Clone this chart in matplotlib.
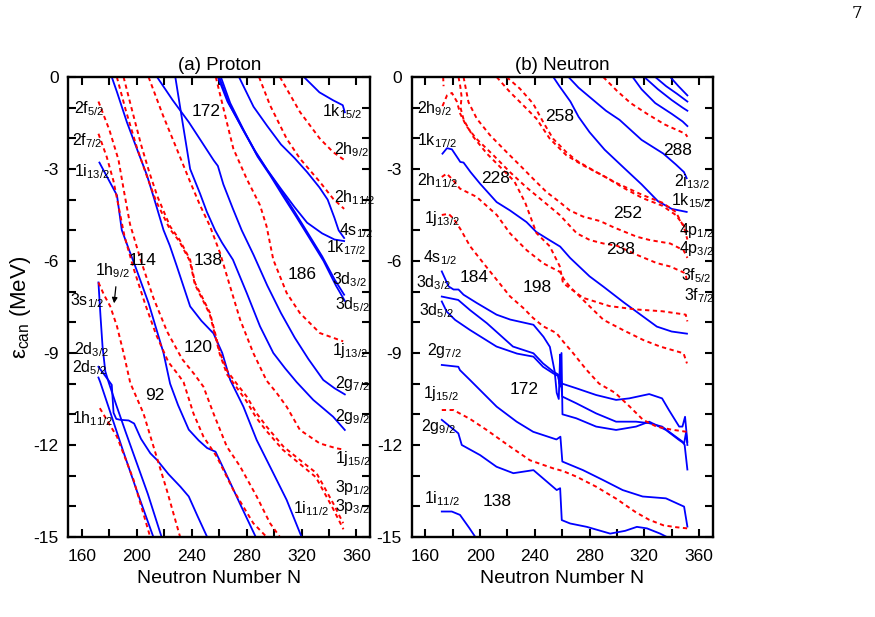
import matplotlib
matplotlib.use("Agg")
import matplotlib.pyplot as plt
from matplotlib.ticker import MultipleLocator, FuncFormatter

plt.rcParams["font.family"] = ["Liberation Sans", "DejaVu Sans"]
plt.rcParams["mathtext.fontset"] = "custom"
plt.rcParams["mathtext.rm"] = "Liberation Sans"
plt.rcParams["mathtext.it"] = "Liberation Sans:italic"
plt.rcParams["axes.unicode_minus"] = False

BLUE = "#0000ff"
RED = "#ff0000"

# ---- (a) proton levels: (N, energy in MeV) ----
a_1k15 = [(321.7, 0), (333, -0.5), (343, -0.76), (350, -0.92), (351.5, -1.15)]
a_4s1 = [(274.4, 0), (285, -0.97), (295, -1.6), (305, -2.2), (315, -2.65), (324, -3.1),
         (333, -3.6), (339, -4.0), (344, -4.6), (347, -5.0), (351, -5.25)]
a_1k17 = [(259, 0), (266, -0.8), (276, -1.6), (286, -2.4), (295, -3.03), (305, -3.65),
          (315, -4.25), (324, -4.75), (335, -5.1), (344, -5.3), (351, -5.35)]
a_3d3 = [(260, 0), (267, -0.85), (277, -1.7), (287, -2.5), (296, -3.1), (305, -3.7),
         (315, -4.4), (324, -5.05), (335, -5.85), (344, -6.6), (351, -7.1)]
a_3d5 = [(261.2, 0), (268, -0.85), (278, -1.75), (288, -2.6), (297, -3.2), (306, -3.85),
         (316, -4.55), (325, -5.2), (336, -6.0), (345, -6.8), (351.5, -7.3)]
a_2g7 = [(214.7, 0), (226, -0.75), (237.8, -1.47), (247, -2.1), (256, -2.72), (259, -2.9),
         (263, -3.5), (270, -4.3), (276.4, -5.0), (285, -5.8), (295, -6.8), (305, -7.7),
         (315, -8.5), (325, -9.2), (335.8, -9.88), (344, -10.15), (351.5, -10.35)]
a_2g9 = [(228, 0), (233, -1.4), (238.8, -3.0), (246, -3.8), (251, -4.4), (257, -5.0),
         (262, -5.4), (270, -5.96), (280, -7.04), (289.7, -8.13), (299.4, -9.0), (308, -9.5),
         (316.4, -9.95), (328.5, -10.53), (343, -11.08), (351.5, -11.51)]
a_1i11 = [(181.7, 0), (185.5, -0.49), (192.7, -1.47), (200, -2.34), (207.3, -3.2),
          (212.6, -3.97), (219.4, -4.99), (224, -5.5), (229.1, -6.17), (238.8, -7.48),
          (247, -7.95), (255.8, -8.36), (262.2, -9.0), (268, -9.88), (277.6, -10.75),
          (287.3, -11.84), (299.4, -12.92), (309.1, -13.79), (320, -15)]
a_1i13 = [(172.7, -2.79), (180, -3.4), (185.5, -3.86), (189, -4.99), (194, -5.6),
          (198.8, -6.17), (208.5, -7.37), (219.4, -9.0), (224.2, -10.0), (230, -10.7),
          (237.8, -11.5), (245, -11.85), (251.2, -12.1), (257.3, -12.22), (265.9, -13.03),
          (276, -14.0), (286.6, -15)]
a_3s1 = [(172, -6.7), (173.5, -7.8), (175, -8.8), (177, -9.6), (179.4, -9.95), (185, -10.7),
         (192, -11.6), (200, -12.6), (208, -13.6), (218, -15)]
a_2d3 = [(172, -9.45), (177, -9.75), (181.7, -10.04), (183, -10.95), (185, -11.15),
         (188, -11.18), (194, -11.2), (198, -11.3), (203, -11.8), (209.8, -12.27),
         (214.7, -12.49), (223, -12.95), (231.7, -13.36), (237.8, -13.68), (244, -14.3),
         (251.2, -15)]
a_2d5 = [(172, -9.8), (173.3, -9.95), (180, -10.85), (190, -12.2), (200, -13.5), (212, -15)]

a_2f5 = [(172, -0.8), (180, -1.73), (186.6, -2.7), (190.5, -3.7), (195, -4.8), (203, -6.0),
         (212, -7.2), (222, -8.3), (233, -9.2), (242, -9.7), (248.5, -10.1), (255.8, -10.97),
         (265.5, -12.05), (275.2, -12.7), (287.3, -13.68), (297, -14.55), (304.2, -15)]
a_2f7 = [(172, -1.85), (178, -2.6), (183, -3.4), (187, -4.3), (191, -5.2), (198, -6.3),
         (206, -7.4), (214, -8.4), (223, -9.3), (230, -9.7), (234, -9.95), (241.2, -10.97),
         (248.5, -11.73), (258.2, -12.38), (270.3, -13.47), (284.8, -14.55), (294.5, -15)]
a_1h9 = [(172, -6.7), (176, -7.1), (180.6, -7.48), (185.5, -8.13), (190.3, -9.0),
         (195.2, -9.98), (204.8, -10.97), (212.1, -12.05), (221.8, -13.47), (231.5, -15)]
a_1h11 = [(173, -10.8), (179, -11.25), (185.5, -11.73), (197.6, -13.14), (209.7, -15)]
a_3p1 = [(190.3, 0), (196, -1.0), (203, -2.2), (209, -3.1), (215, -3.9), (224.2, -4.87),
         (231, -5.3), (238.8, -5.96), (242.4, -6.72), (248.5, -7.26), (253.3, -7.7),
         (257, -8.35), (260.6, -9.0), (266, -9.6), (272.7, -10.0), (280, -10.42),
         (287.3, -10.97), (294.5, -11.4), (306.7, -12.05), (318.8, -12.49), (330.9, -12.92),
         (343, -13.9), (350.3, -14.55)]
a_3p3 = [(185.4, 0), (192, -1.1), (200, -2.3), (207, -3.2), (214, -4.05), (223.9, -4.95),
         (230.8, -5.35), (238.6, -6.0), (242.2, -6.76), (248.3, -7.3), (253.1, -7.74),
         (256.8, -8.39), (260.4, -9.04), (265.7, -9.7), (272.3, -10.1), (279.5, -10.55),
         (286.8, -11.1), (294, -11.52), (306.2, -12.15), (318.3, -12.6), (330.4, -13.05),
         (342.6, -14.05), (350.5, -14.75)]
a_1j15 = [(208.5, 0), (219, -1.25), (229, -2.34), (238.8, -3.42), (246, -4.18),
          (253.3, -4.87), (260.6, -5.74), (267.9, -6.83), (275.2, -7.91), (284.8, -9.0),
          (294.5, -9.9), (301.8, -10.3), (309.1, -10.75), (318.8, -11.51), (333.3, -11.95),
          (345.5, -12.11), (351, -12.15)]
a_1j13 = [(257.5, 0), (265.5, -1.47), (270.3, -2.34), (280, -3.32), (289.7, -4.18),
          (294.5, -4.87), (299.4, -5.96), (309.1, -7.04), (318.8, -7.7), (333.3, -8.35),
          (350.3, -8.62)]
a_2h11 = [(289, 0), (297, -0.92), (309.1, -2.01), (318.8, -2.66), (333.3, -3.42),
          (343, -3.97), (351, -4.3)]
a_2h9 = [(304.2, 0), (318.8, -1.14), (333.3, -2.01), (343, -2.45), (351.5, -2.72)]

# ---- (b) neutron levels ----
b_1k15 = [(253.5, 0), (258, -0.3), (266, -0.8), (272, -1.3), (280, -1.8), (291, -2.37),
          (306, -3.0), (318, -3.5), (330, -4.05), (340, -4.3), (351, -4.4)]
b_2i13 = [(264.6, 0), (272, -0.35), (280, -0.65), (292, -1.1), (302, -1.4), (318, -2.05),
          (334, -2.5), (343, -2.85), (349, -3.1), (351, -3.3)]
b_top1 = [(311.5, 0), (318, -0.4), (328, -0.85), (340, -1.2), (348, -1.45), (351.5, -1.6)]
b_top2 = [(320, 0), (330, -0.4), (340, -0.75), (348, -1.0), (351.5, -1.1)]
b_top3 = [(328, 0), (336, -0.3), (344, -0.55), (351.5, -0.8)]
b_top4 = [(339, 0), (345, -0.3), (351.5, -0.6)]
b_1k17 = [(172.5, -2.5), (175.8, -2.32), (179.4, -2.36), (184.2, -2.68), (185.5, -2.77),
          (187.9, -2.79), (193, -3.1), (200, -3.48), (212.1, -4.08), (221.8, -4.35),
          (233.9, -4.73), (241, -5.05), (250, -5.3), (258.5, -5.53), (265.8, -5.9),
          (280, -6.5), (290.2, -6.84), (305, -7.35), (319.4, -7.82), (329.2, -8.14),
          (340, -8.3), (351.2, -8.37)]
b_4s1 = [(172, -6.34), (177, -6.83), (180.6, -6.93), (184.2, -6.93), (187.9, -7.1),
         (197.6, -7.37), (212, -7.75), (222, -7.91), (237, -8.06), (239, -8.08),
         (246.3, -8.47), (251, -8.8), (254.5, -9.6), (256, -10.3), (257.5, -10.5),
         (258.5, -9.05), (259.2, -9.9), (260, -10.0), (270.3, -10.15), (284.8, -10.37),
         (299.4, -10.53), (309, -10.48), (323.6, -10.34), (333, -10.48), (338, -10.86),
         (345.5, -11.4), (347.9, -11.4), (349.8, -11.08), (351.5, -11.9)]
b_3d3 = [(172, -7.16), (184, -7.27), (192.6, -7.6), (205, -8.03), (224, -8.79), (239, -9.01),
         (246, -9.34), (253.6, -9.61), (257, -9.7), (258, -10.0), (259, -9.8), (260, -10.42),
         (270.3, -10.64), (284.8, -10.97), (299.4, -11.24), (314, -11.24), (323.6, -11.29),
         (333, -11.4), (343, -11.73), (347.9, -11.89), (349.5, -12.0), (351.5, -12.8)]
b_3d5 = [(172, -7.32), (175.6, -7.65), (181.7, -7.92), (192.6, -8.25), (212, -8.79),
         (227, -9.02), (239, -9.12), (246, -9.45), (253.6, -9.67), (257, -9.75),
         (258.5, -10.1), (259.5, -9.0), (260.2, -11.0), (270.3, -11.13), (284.8, -11.4),
         (299.4, -11.51), (314, -11.4), (323.6, -11.24), (335.8, -11.51), (345.5, -11.84),
         (349.1, -11.95), (350.5, -11.6), (351.5, -12.0)]
b_2g7 = [(172, -9.39), (184.1, -9.45), (185.3, -9.56), (192.6, -9.88), (200, -10.21),
         (212.1, -10.75), (226.7, -11.24), (238.8, -11.57), (255.8, -11.82), (258.7, -11.73),
         (260.1, -12.54), (275.2, -12.82), (289.7, -13.14), (304.2, -13.47), (318.8, -13.68),
         (335.8, -13.74), (349.1, -14.01), (351.5, -14.66)]
b_2g9 = [(172, -11.18), (184.1, -11.62), (186.6, -12.0), (200, -12.33), (212, -12.71),
         (224.3, -12.92), (239, -12.82), (256, -13.47), (258.5, -13.41), (259.7, -14.45),
         (265.8, -14.56), (278, -14.67), (295.1, -14.89), (306, -14.8), (314.6, -14.67),
         (322, -14.72), (331.6, -14.89), (336.5, -15.0), (340, -15.2)]
b_1i11 = [(172, -14.17), (179.3, -14.17), (185.3, -14.28), (192, -14.7), (198, -15.1)]

b_red_top = [(290, 0), (300, -0.45), (310, -0.85), (322, -1.2), (335, -1.55), (345, -1.75),
             (350, -1.85), (351.5, -1.95)]
b_1j15 = [(172, -10.86), (180.5, -10.86), (192.6, -11.15), (204.8, -11.51), (221.8, -12.05),
          (236.5, -12.5), (253.3, -12.76), (260.6, -12.85), (270.3, -13.03), (284.8, -13.36),
          (299.4, -13.75), (314, -14.2), (323.6, -14.44), (334, -14.62), (343, -14.68),
          (351.5, -14.72)]
b_1j13 = [(172, -4.5), (176.9, -4.46), (180.6, -4.62), (185.5, -4.95), (192.7, -5.52),
          (202.4, -6.07), (212.1, -6.61), (221.8, -7.15), (231.5, -7.53), (238.8, -7.86),
          (246.1, -8.13), (255.8, -8.35), (260.6, -8.62), (267.9, -9.0), (277.6, -9.54),
          (287, -10.0), (298.7, -10.3), (309.4, -10.75), (319.1, -11.18), (328.9, -11.4),
          (340, -11.5), (351, -11.57)]
b_2h11 = [(172, -3.26), (175.6, -3.15), (180.4, -3.37), (185.3, -3.64), (197.5, -3.91),
          (212.2, -4.5), (221.9, -5.1), (234.1, -5.65), (246.3, -6.08), (258.5, -6.36),
          (260.9, -6.57), (265.8, -6.85), (278, -7.39), (290.2, -7.92), (304.8, -8.26),
          (319.4, -8.58), (331.6, -8.79), (348.7, -9.01), (351.2, -9.34)]
b_2h9 = [(172.5, -0.95), (175.8, -0.6), (179.4, -0.52), (183, -0.8), (185.5, -1.2),
         (190, -1.6), (197, -2.0), (209.7, -2.55), (221.8, -3.1), (233.9, -3.6),
         (246.1, -4.05), (258.2, -4.5), (270.7, -5.1), (280.4, -5.32), (290.2, -5.43),
         (299.9, -5.5), (314.6, -5.8), (329.2, -6.07), (339, -6.18), (350, -6.4), (351.5, -6.7)]
b_3f5 = [(187.9, 0), (191.5, -0.82), (197.6, -1.36), (207.3, -1.9), (219.4, -2.45),
         (229.1, -2.88), (238.8, -3.32), (248.5, -3.75), (258.2, -4.08), (265.5, -4.35),
         (275.2, -4.55), (287.8, -4.7), (297.5, -4.9), (314.6, -5.21), (324.3, -5.32),
         (339, -5.43), (348.7, -5.65), (351.5, -5.9)]
b_3f7 = [(184.2, 0), (185.5, -0.3), (186.5, -0.65), (185.7, -1.0), (188, -1.4), (195, -1.95),
         (205, -2.5), (215, -2.95), (225, -3.4), (233, -4.1), (241.2, -5.09), (250.9, -5.52),
         (258.2, -6.17), (260.6, -6.72), (275.2, -7.2), (294.5, -7.47), (313.9, -7.58),
         (333.3, -7.64), (350.3, -7.75), (351.5, -7.97)]
b_4p1 = [(212.1, 0), (221.8, -0.49), (231.5, -0.92), (241.2, -1.36), (250.9, -2.01),
         (263, -2.55), (275.2, -2.88), (289.7, -3.21), (304.2, -3.6), (318.8, -3.95),
         (333.3, -4.2), (343, -4.5), (349, -4.85), (351.5, -5.05)]
b_4p3 = [(219.4, 0), (229.1, -0.38), (238.8, -0.87), (246.1, -1.47), (253.3, -2.01),
         (263, -2.45), (270.3, -2.72), (284.8, -3.1), (299.4, -3.45), (318.8, -3.85),
         (333.3, -4.1), (343, -4.4), (349, -4.9), (351.5, -5.3)]
b_stub = [(173, 0), (173.3, -0.3)]

a_blue = [a_1k15, a_4s1, a_1k17, a_3d3, a_3d5, a_2g7, a_2g9, a_1i11, a_1i13, a_3s1, a_2d3, a_2d5]
a_red = [a_2f5, a_2f7, a_1h9, a_1h11, a_3p1, a_3p3, a_1j15, a_1j13, a_2h11, a_2h9]
b_blue = [b_1k15, b_2i13, b_top1, b_top2, b_top3, b_top4, b_1k17, b_4s1, b_3d3, b_3d5,
          b_2g7, b_2g9, b_1i11]
b_red = [b_red_top, b_1j15, b_1j13, b_2h11, b_2h9, b_3f5, b_3f7, b_4p1, b_4p3, b_stub]

# labels: text, N, E
a_numbers = [("172", 250.7, -1.14), ("114", 204.4, -6.0), ("138", 252, -6.0),
             ("186", 320.2, -6.43), ("120", 244.7, -8.83), ("92", 212.9, -10.4)]
a_states = [("2f", "5/2", 154.5, -1.03), ("2f", "7/2", 152.5, -2.07), ("1i", "13/2", 154.5, -3.1),
            ("1h", "9/2", 169.5, -6.33), ("3s", "1/2", 151.5, -7.3), ("2d", "3/2", 154, -8.9),
            ("2d", "5/2", 152.5, -9.48), ("1h", "11/2", 152.5, -11.13),
            ("1k", "15/2", 335, -1.14), ("2h", "9/2", 343.5, -2.36), ("2h", "11/2", 343.5, -3.95),
            ("4s", "1/2", 347, -5.02), ("1k", "17/2", 337.5, -5.57), ("3d", "3/2", 342.5, -6.6),
            ("3d", "5/2", 344.5, -7.44), ("1j", "13/2", 342.5, -8.93), ("2g", "7/2", 344, -9.98),
            ("2g", "9/2", 344.5, -11.07), ("1j", "15/2", 344.5, -12.43),
            ("3p", "1/2", 344.5, -13.38), ("3p", "3/2", 344.5, -14.0), ("1i", "11/2", 314, -14.06)]
b_numbers = [("258", 257.8, -1.3), ("288", 344.3, -2.4), ("228", 211.4, -3.32),
             ("252", 307.7, -4.46), ("238", 302.9, -5.62), ("184", 195.6, -6.55),
             ("198", 241.9, -6.87), ("172", 232.1, -10.2), ("138", 212.6, -13.84)]
b_states = [("2h", "9/2", 154, -1.03), ("1k", "17/2", 154, -2.07), ("2h", "11/2", 154, -3.37),
            ("1j", "13/2", 159, -4.62), ("4s", "1/2", 158, -5.89), ("3d", "3/2", 153, -6.71),
            ("3d", "5/2", 155.5, -7.63), ("2g", "7/2", 161.5, -8.93), ("1j", "15/2", 158, -10.31),
            ("2g", "9/2", 156.5, -11.41), ("1i", "11/2", 159, -13.74),
            ("2i", "13/2", 342, -3.42), ("1k", "15/2", 339.5, -4.02), ("4p", "1/2", 345.5, -5.02),
            ("4p", "3/2", 345.5, -5.58), ("3f", "5/2", 347, -6.49), ("3f", "7/2", 349, -7.14)]


def setup_axes(ax, title):
    ax.set_xlim(150, 370)
    ax.set_ylim(-15, 0)
    ax.xaxis.set_major_locator(MultipleLocator(20))
    ax.yaxis.set_major_locator(MultipleLocator(1))
    ax.xaxis.set_major_formatter(FuncFormatter(lambda v, _: f"{v:.0f}" if round(v) % 40 == 0 else ""))
    ax.yaxis.set_major_formatter(FuncFormatter(lambda v, _: f"{v:.0f}" if round(v) % 3 == 0 else ""))
    ax.tick_params(direction="in", length=6, width=1.5, top=True, right=True, labelsize=12.5)
    ax.tick_params(axis="x", pad=9)
    ax.tick_params(axis="y", pad=7)
    for sp in ax.spines.values():
        sp.set_linewidth(1.7)
    ax.set_title(title, fontsize=13.5, pad=5)
    ax.set_xlabel("Neutron Number N", fontsize=14, labelpad=4)


def draw(ax, blue, red, numbers, states):
    for pts in blue:
        ax.plot([p[0] for p in pts], [p[1] for p in pts], color=BLUE, lw=1.3, solid_joinstyle="round")
    for pts in red:
        ax.plot([p[0] for p in pts], [p[1] for p in pts], color=RED, lw=1.4,
                ls=(0, (2.2, 1.8)))
    for txt, n, e in numbers:
        ax.text(n, e, txt, fontsize=12.5, ha="center", va="center")
    for base, sub, n, e in states:
        ax.text(n, e, base + r"$_{" + sub + "}$", fontsize=11.5, ha="left", va="center")


fig = plt.figure(figsize=(8.75, 6.17), dpi=100)
ax_a = fig.add_axes([0.078, 0.1297, 0.3451, 0.7455])
ax_b = fig.add_axes([0.4705, 0.1297, 0.344, 0.7455])

setup_axes(ax_a, "(a) Proton")
setup_axes(ax_b, "(b) Neutron")
draw(ax_a, a_blue, a_red, a_numbers, a_states)
draw(ax_b, b_blue, b_red, b_numbers, b_states)

ax_a.set_ylabel(r"ε$_{\rm can}$ (MeV)", fontsize=16, labelpad=0)
ax_a.annotate("", xy=(183.2, -7.47), xytext=(184.9, -6.75),
              arrowprops=dict(arrowstyle="-|>", color="black", lw=0.9, mutation_scale=8))

fig.text(0.985, 0.992, "7", fontsize=12, family="DejaVu Serif", ha="right", va="top")

fig.savefig("out.png", dpi=100)
